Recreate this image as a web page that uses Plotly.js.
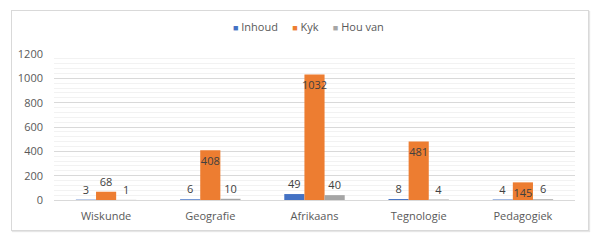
<!DOCTYPE html>
<html><head><meta charset="utf-8">
<script src="https://cdn.plot.ly/plotly-3.0.1.min.js"></script>
<style>
html,body{margin:0;padding:0;background:#fff;}
#wrap{position:relative;width:600px;height:243px;}
#chart{width:600px;height:243px;}
#frame{position:absolute;left:11px;top:10px;width:576px;height:219px;border:1px solid #d9d9d9;pointer-events:none;box-shadow:1px 1px 1px #e6e6e6;}
</style></head>
<body>
<div id="wrap"><div id="chart"></div><div id="frame"></div></div>
<script>
const categories = ["Wiskunde", "Geografie", "Afrikaans", "Tegnologie", "Pedagogiek"];
const seriesNames = ["Inhoud", "Kyk", "Hou van"];
const inhoud = [3, 6, 49, 8, 4];
const kyk = [68, 408, 1032, 481, 145];
const houVan = [1, 10, 40, 4, 6];
const yTicks = [0, 200, 400, 600, 800, 1000, 1200];
const colors = ['#4472C4', '#ED7D31', '#A5A5A5'];

const FONT = 'Open Sans, Liberation Sans, sans-serif';
function pos(vals){ return vals.map(v => v > 100 ? 'inside' : 'outside'); }
function mk(name, vals, color){
  return {
    type: 'bar', name: name, x: categories, y: vals,
    marker: {color: color, line: {color: color, width: 0}},
    text: vals.map(String), textposition: pos(vals), textangle: 0,
    insidetextanchor: 'end', constraintext: 'none', cliponaxis: false,
    textfont: {family: FONT, size: 11, color: '#404040'},
    insidetextfont: {family: FONT, size: 11, color: '#404040'},
    outsidetextfont: {family: FONT, size: 11, color: '#404040'},
    hoverinfo: 'none', showlegend: false
  };
}
const data = [mk(seriesNames[0], inhoud, colors[0]), mk(seriesNames[1], kyk, colors[1]), mk(seriesNames[2], houVan, colors[2])];
const legendText = seriesNames.map((n, i) =>
  '<span style="color:' + colors[i] + ';font-size:9px">■</span> ' + n).join('     ');
const layout = {
  width: 600, height: 243,
  margin: {l: 54, r: 25, t: 54, b: 43},
  paper_bgcolor: 'rgba(0,0,0,0)', plot_bgcolor: '#fff',
  barmode: 'group', bargap: 0.42, bargroupgap: 0,
  font: {family: FONT, size: 11, color: '#595959'},
  showlegend: false,
  annotations: [{text: legendText, xref: 'paper', yref: 'paper', x: 0.488, y: 1.19, xanchor: 'center', yanchor: 'middle',
                 showarrow: false, font: {family: FONT, size: 11, color: '#595959'}}],
  xaxis: {showgrid: false, showline: true, linecolor: '#d9d9d9', linewidth: 1, ticks: '', ticklabelstandoff: 6,
          tickfont: {size: 11, color: '#595959'}, fixedrange: true},
  yaxis: {range: [0, 1200], tickvals: yTicks, ticktext: yTicks.map(String), showgrid: true, gridcolor: '#d9d9d9', gridwidth: 1,
          zeroline: false, showline: false, ticks: '', ticklabelstandoff: 10, tickfont: {size: 11, color: '#595959'},
          minor: {dtick: 40, tick0: 0, showgrid: true, gridcolor: '#f2f2f2', gridwidth: 1}, fixedrange: true}
};
Plotly.newPlot('chart', data, layout, {displayModeBar: false, staticPlot: true});
</script>
</body></html>
